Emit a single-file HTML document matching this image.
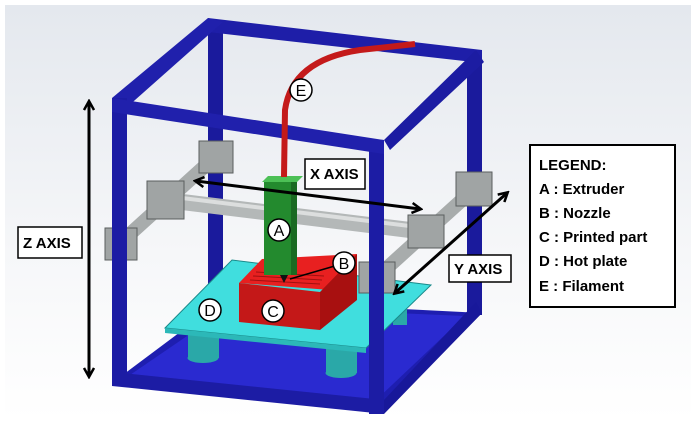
<!DOCTYPE html>
<html><head><style>html,body{margin:0;padding:0;background:#fff}</style></head><body>
<svg width="698" height="431" viewBox="0 0 698 431" xmlns="http://www.w3.org/2000/svg" font-family="'Liberation Sans',sans-serif">
<defs>
<linearGradient id="bg" x1="0" y1="0" x2="0" y2="1"><stop offset="0" stop-color="#e4e8ee"/><stop offset="0.6" stop-color="#f6f7f9"/><stop offset="1" stop-color="#fff"/></linearGradient>
<marker id="ah" markerWidth="12" markerHeight="12" refX="9" refY="6" orient="auto-start-reverse" markerUnits="userSpaceOnUse"><path d="M1,1 L10,6 L1,11" fill="none" stroke="#000" stroke-width="2.5"/></marker>
</defs>
<rect x="5" y="5" width="686" height="415" fill="url(#bg)"/>
<!-- bottom tray -->
<polygon points="112,383 384,413 482,313 223,300" fill="#1e1eb0"/>
<polygon points="127,377 374,402 465,316 231,306" fill="#2a2ad0"/>
<!-- back posts -->
<rect x="208" y="20" width="15" height="290" fill="#1a1a9c"/>
<rect x="467" y="50" width="15" height="265" fill="#1a1a9c"/>
<!-- top frame back bars -->
<polygon points="208,18 482,50 482,63 208,32" fill="#1e1ea8"/>
<polygon points="112,98 208,18 223,22 126,108" fill="#2020ac"/>
<polygon points="384,140 476,50 484,62 390,150" fill="#1c1ca2"/>
<!-- hot plate legs -->
<rect x="188" y="325" width="31" height="33" fill="#2aa8a8"/><ellipse cx="203" cy="358" rx="15.5" ry="5" fill="#2aa8a8"/>
<rect x="326" y="335" width="31" height="38" fill="#2aa8a8"/><ellipse cx="341" cy="373" rx="15.5" ry="5" fill="#2aa8a8"/>
<rect x="393" y="303" width="14" height="22" fill="#2aa8a8"/>
<!-- hot plate -->
<polygon points="165,328 232,260 431,285 366,348" fill="#40dede" stroke="#1a8a8a" stroke-width="1"/>
<polygon points="165,328 366,348 366,353 165,333" fill="#2cb8b8"/>
<!-- red part -->
<polygon points="239,283 262,259 357,254 330,290" fill="#e82020"/>
<polygon points="239,283 320,292 320,330 239,322" fill="#c41818"/>
<polygon points="320,292 357,254 357,300 320,330" fill="#a81010"/>
<line x1="250" y1="280" x2="320" y2="284" stroke="#a01010" stroke-width="1"/>
<line x1="253" y1="276" x2="322" y2="280" stroke="#a01010" stroke-width="1"/>
<line x1="256" y1="272" x2="324" y2="276" stroke="#a01010" stroke-width="1"/>
<!-- rods -->
<line x1="120" y1="243" x2="215" y2="157" stroke="#a8acac" stroke-width="14"/>
<line x1="378" y1="276" x2="473" y2="190" stroke="#a8acac" stroke-width="14"/>
<line x1="166" y1="200" x2="426" y2="232" stroke="#b4b8b8" stroke-width="16"/>
<line x1="166" y1="196" x2="426" y2="228" stroke="#dcdede" stroke-width="4"/>
<!-- extruder -->
<rect x="264" y="182" width="33" height="93" fill="#238a2e"/>
<rect x="291" y="182" width="6" height="93" fill="#1a6a22"/>
<polygon points="262,182 268,176 303,176 297,182" fill="#4cc056"/>
<polygon points="280,275 288,275 284,283" fill="#111"/>
<!-- brackets -->
<g fill="#a0a4a4" stroke="#5a5e5e" stroke-width="1">
<rect x="199" y="141" width="34" height="32"/><rect x="147" y="181" width="37" height="38"/>
<rect x="105" y="228" width="32" height="32"/><rect x="408" y="215" width="36" height="33"/>
<rect x="456" y="172" width="36" height="34"/><rect x="359" y="262" width="36" height="31"/>
</g>
<!-- front posts and bars -->
<rect x="112" y="98" width="15" height="288" fill="#1c1ca4"/>
<rect x="369" y="140" width="15" height="274" fill="#1c1ca4"/>
<polygon points="112,98 384,140 384,154 112,112" fill="#2020ac"/>
<polygon points="112,372 384,400 384,414 112,386" fill="#1c1ca4"/>
<polygon points="384,400 476,302 482,313 384,414" fill="#18189a"/>
<!-- filament -->
<path d="M284,177 L285,110 Q292,60 360,50 L415,44" fill="none" stroke="#c41a1a" stroke-width="6"/>
<!-- arrows -->
<line x1="89" y1="102" x2="89" y2="376" stroke="#000" stroke-width="3" marker-start="url(#ah)" marker-end="url(#ah)"/>
<line x1="196" y1="181" x2="420" y2="209" stroke="#000" stroke-width="3" marker-start="url(#ah)" marker-end="url(#ah)"/>
<line x1="507" y1="193" x2="395" y2="293" stroke="#000" stroke-width="3" marker-start="url(#ah)" marker-end="url(#ah)"/>
<line x1="345" y1="263" x2="290" y2="279" stroke="#000" stroke-width="1.5"/>
<!-- label boxes -->
<g fill="#fff" stroke="#000" stroke-width="1.5">
<rect x="18" y="227" width="64" height="31"/><rect x="305" y="159" width="60" height="30"/>
<rect x="449" y="255" width="62" height="27"/><rect x="530" y="145" width="145" height="162" stroke-width="2"/>
</g>
<g font-weight="bold" font-size="15" fill="#000">
<text x="23" y="248">Z AXIS</text><text x="310" y="179">X AXIS</text><text x="454" y="274">Y AXIS</text>
<text x="539" y="170">LEGEND:</text>
<text x="539" y="194">A : Extruder</text>
<text x="539" y="218">B : Nozzle</text>
<text x="539" y="242">C : Printed part</text>
<text x="539" y="266">D : Hot plate</text>
<text x="539" y="291">E : Filament</text>
</g>
<!-- circles -->
<g fill="#fff" stroke="#000" stroke-width="1.5">
<circle cx="301" cy="90" r="11"/><circle cx="279" cy="230" r="11"/><circle cx="344" cy="263" r="11"/>
<circle cx="273" cy="311" r="11"/><circle cx="210" cy="310" r="11"/>
</g>
<g font-size="16" text-anchor="middle" fill="#000">
<text x="301" y="96">E</text><text x="279" y="236">A</text><text x="344" y="269">B</text><text x="273" y="317">C</text><text x="210" y="316">D</text>
</g>
</svg>
</body></html>
